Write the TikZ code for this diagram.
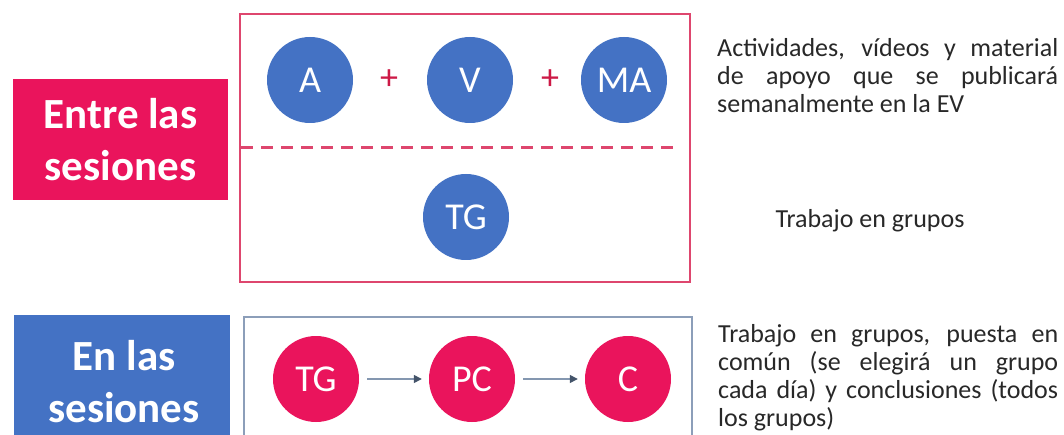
\documentclass[tikz,border=0pt]{standalone}
\usepackage{fontspec}
\setmainfont{Carlito}
\usetikzlibrary{arrows.meta}
\definecolor{pinkc}{RGB}{234,20,92}
\definecolor{bluec}{RGB}{68,114,196}
\definecolor{pinkline}{RGB}{222,70,110}
\definecolor{plusc}{RGB}{205,25,70}
\definecolor{grayblue}{RGB}{140,158,185}
\definecolor{arrline}{RGB}{132,151,176}
\definecolor{arrhead}{RGB}{68,84,106}
\definecolor{txt}{RGB}{40,40,40}
\newcommand{\descfont}{\fontsize{26}{28}\selectfont\hyphenpenalty=10000\relax}
\begin{document}
\begin{tikzpicture}[x=1pt,y=-1pt,
  labelbox/.style={rectangle, inner sep=0pt, draw=none},
  labeltext/.style={text=white, font=\bfseries\fontsize{43}{52}\selectfont, align=center, inner sep=0pt},
  bcirc/.style={circle, fill=bluec, minimum size=86pt, inner sep=0pt, text=white, font=\fontsize{38}{40}\selectfont},
  pcirc/.style={circle, fill=pinkc, minimum size=86pt, inner sep=0pt, text=white, font=\fontsize{38}{40}\selectfont},
  plus/.style={text=plusc, font=\fontsize{36}{36}\selectfont, inner sep=0pt},
  desc/.style={text=txt, font=\descfont, inner sep=0pt},
  flow/.style={draw=arrline, line width=1.4pt, -{Triangle[length=8pt,width=8pt,color=arrhead]}, shorten <=8pt, shorten >=7pt}
]
\clip (0,0) rectangle (1064,435);
\fill[white] (0,0) rectangle (1064,435);

% top section
\node[labelbox, fill=pinkc, minimum width=215pt, minimum height=121pt] (entrebox) at (120.5,139.5) {};
\node[labeltext] (entretxt) at (120.5,140) {Entre las\\sesiones};

\node[draw=pinkline, line width=2pt, minimum width=450pt, minimum height=268pt, inner sep=0pt] (topframe) at (465,148) {};
\coordinate (dashL) at (241,148);
\coordinate (dashR) at (680,148);
\draw[pinkline, line width=3pt, dash pattern=on 12pt off 8pt] (dashL) -- (dashR);

\node[bcirc] (A) at (310,80) {A};
\node[plus] (p1) at (389,80) {+};
\node[bcirc] (V) at (470,80) {V};
\node[plus] (p2) at (550,80) {+};
\node[bcirc] (MA) at (624,80) {MA};
\node[bcirc] (TG1) at (466,217) {TG};

\node[desc, text width=341pt, align=justify, anchor=base west] (d1) at (717,57)
  {Actividades, vídeos y material\linebreak de apoyo que se publicará\linebreak semanalmente en la EV};
\node[desc, anchor=base] (d2) at (870,228) {Trabajo en grupos};

% bottom section
\node[labelbox, fill=bluec, minimum width=216pt, minimum height=160pt] (enbox) at (122,395) {};
\node[labeltext] (entxt) at (124,382) {En las\\sesiones};

\node[draw=grayblue, line width=2.5pt, minimum width=448pt, minimum height=160pt, inner sep=0pt] (botframe) at (468,397) {};

\node[pcirc] (TG2) at (316,379) {TG};
\node[pcirc] (PC) at (472,379) {PC};
\node[pcirc] (C) at (628,379) {C};
\draw[flow] (TG2) -- (PC);
\draw[flow] (PC) -- (C);

\node[desc, text width=340pt, align=justify, anchor=base west] (d3) at (718,342)
  {Trabajo en grupos, puesta en\linebreak común (se elegirá un grupo\linebreak cada día) y conclusiones (todos\linebreak los grupos)};
\end{tikzpicture}
\end{document}
